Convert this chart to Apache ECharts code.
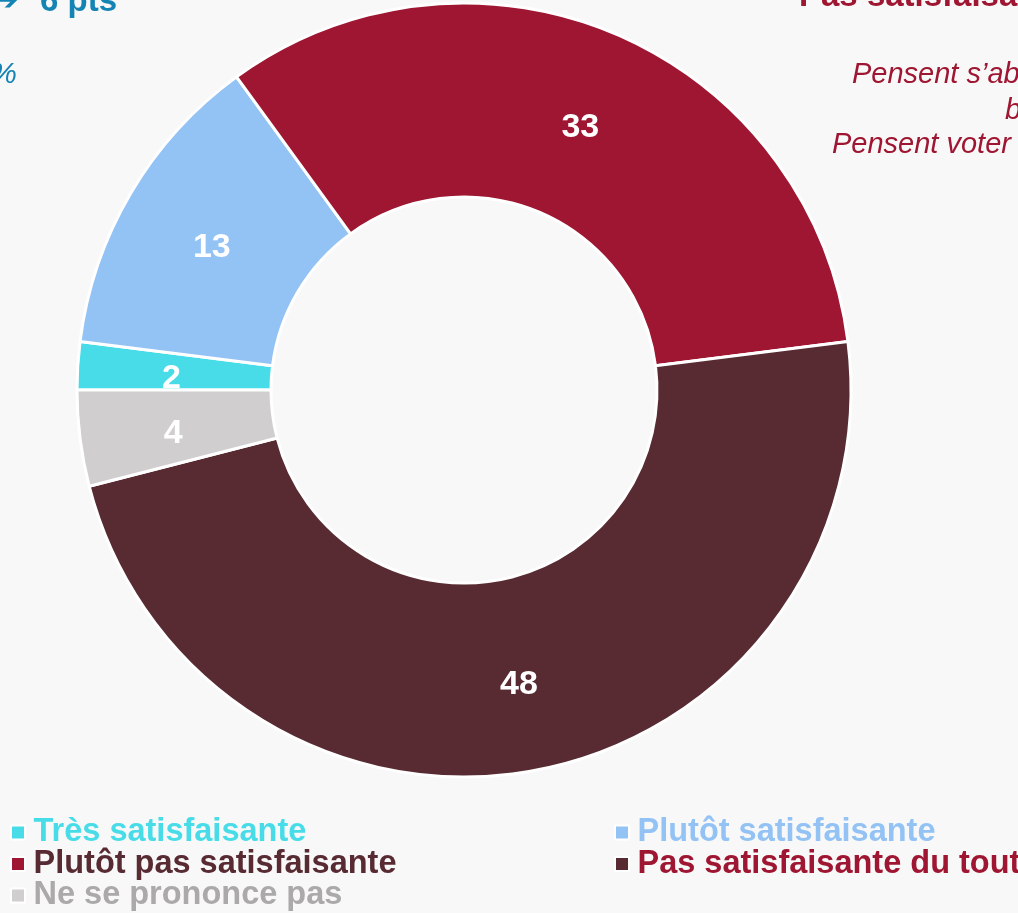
<!DOCTYPE html>
<html>
<head>
<meta charset="utf-8">
<script src="https://cdn.jsdelivr.net/npm/echarts@6/dist/echarts.min.js"></script>
<style>
html,body{margin:0;padding:0;background:#F8F8F8;}
#chart{width:1018px;height:913px;}
</style>
</head>
<body>
<div id="chart"></div>
<script>
// Data
var categories = ['Très satisfaisante', 'Plutôt satisfaisante', 'Plutôt pas satisfaisante', 'Pas satisfaisante du tout', 'Ne se prononce pas'];
var values = [2, 13, 33, 48, 4];
var sliceColors = ['#48DCE8', '#93C2F5', '#9E1631', '#582B33', '#D0CECF'];
var legendTextColors = ['#48DCE8', '#93C2F5', '#582B33', '#9E1631', '#ABA9AA'];

var FONT = '"Liberation Sans", Arial, sans-serif';
var chart = echarts.init(document.getElementById('chart'), null, {renderer: 'canvas'});

var pieData = categories.map(function (c, i) {
  return {name: c, value: values[i], itemStyle: {color: sliceColors[i]}};
});
// legend placement: [category index, left, top]
var legendSlots = [[0, 10, 816], [1, 614, 816], [2, 10, 847.5], [3, 614, 847.5], [4, 10, 879]];
var legends = legendSlots.map(function (s) {
  var i = s[0];
  return {
    orient: 'horizontal',
    left: s[1],
    top: s[2],
    icon: 'path://M0,0L10,0L10,10L0,10Z',
    itemWidth: 21,
    itemHeight: 14,
    padding: 0,
    selectedMode: false,
    itemStyle: {borderColor: '#ffffff', borderWidth: 2},
    textStyle: {fontFamily: FONT, fontSize: 32.5, fontWeight: 'bold', lineHeight: 31.5, color: legendTextColors[i]},
    data: [categories[i]]
  };
});

var option = {
  backgroundColor: '#F8F8F8',
  animation: false,
  legend: legends,
  graphic: [
    {type: 'text', x: -8, y: 18, style: {text: '➔', fill: '#1484B4', font: 'bold 32px "DejaVu Sans", ' + FONT, textVerticalAlign: 'bottom'}},
    {type: 'text', x: 40, y: 18, style: {text: '6 pts', fill: '#1484B4', font: 'bold 33px ' + FONT, textVerticalAlign: 'bottom'}},
    {type: 'text', x: 17, y: 90, style: {text: '%', fill: '#1484B4', font: 'italic 30px ' + FONT, textAlign: 'right', textVerticalAlign: 'bottom'}},
    {type: 'text', x: 799, y: 13, style: {text: 'Pas satisfaisante', fill: '#9E1631', font: 'bold 33px ' + FONT, textVerticalAlign: 'bottom'}},
    {type: 'text', x: 852, y: 89, style: {text: 'Pensent s’abstenir', fill: '#9E1631', font: 'italic 29px ' + FONT, textVerticalAlign: 'bottom'}},
    {type: 'text', x: 1005, y: 125, style: {text: 'blanc', fill: '#9E1631', font: 'italic 29px ' + FONT, textVerticalAlign: 'bottom'}},
    {type: 'text', x: 832, y: 159, style: {text: 'Pensent voter pour', fill: '#9E1631', font: 'italic 29px ' + FONT, textVerticalAlign: 'bottom'}}
  ],
  series: [{
    type: 'pie',
    center: [464, 390],
    radius: [193, 387],
    startAngle: 180,
    clockwise: true,
    avoidLabelOverlap: false,
    itemStyle: {borderColor: '#ffffff', borderWidth: 3},
    label: {
      show: true,
      position: 'inside',
      formatter: '{c}',
      color: '#ffffff',
      fontFamily: FONT,
      fontSize: 34,
      fontWeight: 'bold',
      offset: [0, 7]
    },
    labelLine: {show: false},
    emphasis: {disabled: true},
    data: pieData
  }]
};
chart.setOption(option);
</script>
</body>
</html>
